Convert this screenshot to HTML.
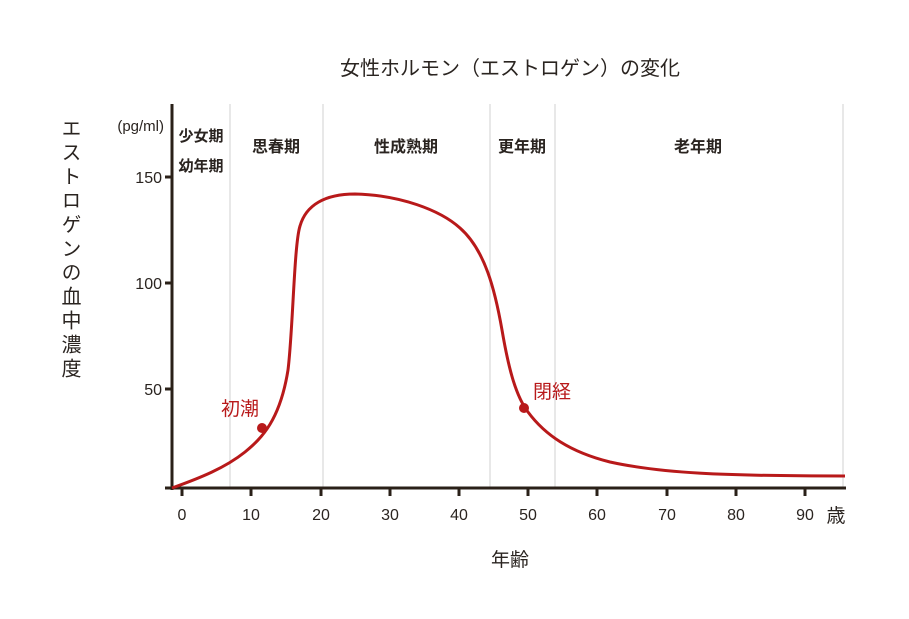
<!DOCTYPE html>
<html><head><meta charset="utf-8"><style>
body{margin:0;background:#fff;width:909px;height:619px;overflow:hidden}
text{font-family:"Liberation Sans","Noto Sans CJK JP",sans-serif;fill:#2a2420}
.vt{position:absolute;left:58px;top:118px;writing-mode:vertical-rl;font-family:"Liberation Sans","Noto Sans CJK JP",sans-serif;font-size:20px;color:#2a2420;letter-spacing:4px;line-height:22px}
</style></head><body>
<div class="vt">エストロゲンの血中濃度</div>
<svg width="909" height="619" style="position:absolute;left:0;top:0">
<text x="510" y="75" font-size="20" text-anchor="middle">女性ホルモン（エストロゲン）の変化</text>
<g stroke="#d8d8d8" stroke-width="1.2">
<line x1="230" y1="104" x2="230" y2="488"/><line x1="323" y1="104" x2="323" y2="488"/>
<line x1="490" y1="104" x2="490" y2="488"/><line x1="555" y1="104" x2="555" y2="488"/>
<line x1="843" y1="104" x2="843" y2="488"/></g>
<g stroke="#2a2018" stroke-width="3">
<line x1="172" y1="104" x2="172" y2="490"/><line x1="165" y1="488" x2="846" y2="488"/>
<line x1="165" y1="177" x2="172" y2="177"/><line x1="165" y1="283" x2="172" y2="283"/><line x1="165" y1="389" x2="172" y2="389"/>
<line x1="182" y1="488" x2="182" y2="496"/><line x1="251" y1="488" x2="251" y2="496"/><line x1="321" y1="488" x2="321" y2="496"/>
<line x1="390" y1="488" x2="390" y2="496"/><line x1="459" y1="488" x2="459" y2="496"/><line x1="528" y1="488" x2="528" y2="496"/>
<line x1="597" y1="488" x2="597" y2="496"/><line x1="667" y1="488" x2="667" y2="496"/><line x1="736" y1="488" x2="736" y2="496"/>
<line x1="805" y1="488" x2="805" y2="496"/></g>
<g font-size="16" text-anchor="end"><text x="162" y="183">150</text><text x="162" y="289">100</text><text x="162" y="395">50</text>
<text x="164" y="131" font-size="15">(pg/ml)</text></g>
<g font-size="16" text-anchor="middle"><text x="182" y="520">0</text><text x="251" y="520">10</text><text x="321" y="520">20</text>
<text x="390" y="520">30</text><text x="459" y="520">40</text><text x="528" y="520">50</text><text x="597" y="520">60</text>
<text x="667" y="520">70</text><text x="736" y="520">80</text><text x="805" y="520">90</text></g>
<text x="836" y="522" font-size="19" text-anchor="middle">歳</text>
<text x="510" y="566" font-size="19" text-anchor="middle">年齢</text>
<g font-size="15" font-weight="bold" text-anchor="middle">
<text x="201" y="141">少女期</text><text x="201" y="171">幼年期</text>
<text x="276" y="152" font-size="16">思春期</text><text x="406" y="152" font-size="16">性成熟期</text>
<text x="522" y="152" font-size="16">更年期</text><text x="698" y="152" font-size="16">老年期</text></g>
<path d="M172,488 C200,478 225,468 245,452 C262,438 280,420 288,370 C293,330 294,245 300,226 C306,205 325,194 355,194 C400,195 440,210 460,228 C485,250 495,290 502,330 C508,365 515,395 528,412 C545,435 570,452 610,462 C660,473 720,476 845,476" fill="none" stroke="#b8191a" stroke-width="3"/>
<circle cx="262" cy="428" r="5" fill="#b8191a"/><circle cx="524" cy="408" r="5" fill="#b8191a"/>
<text x="240" y="415" font-size="19" text-anchor="middle" style="fill:#b8191a">初潮</text>
<text x="552" y="398" font-size="19" text-anchor="middle" style="fill:#b8191a">閉経</text>
</svg>
</body></html>
